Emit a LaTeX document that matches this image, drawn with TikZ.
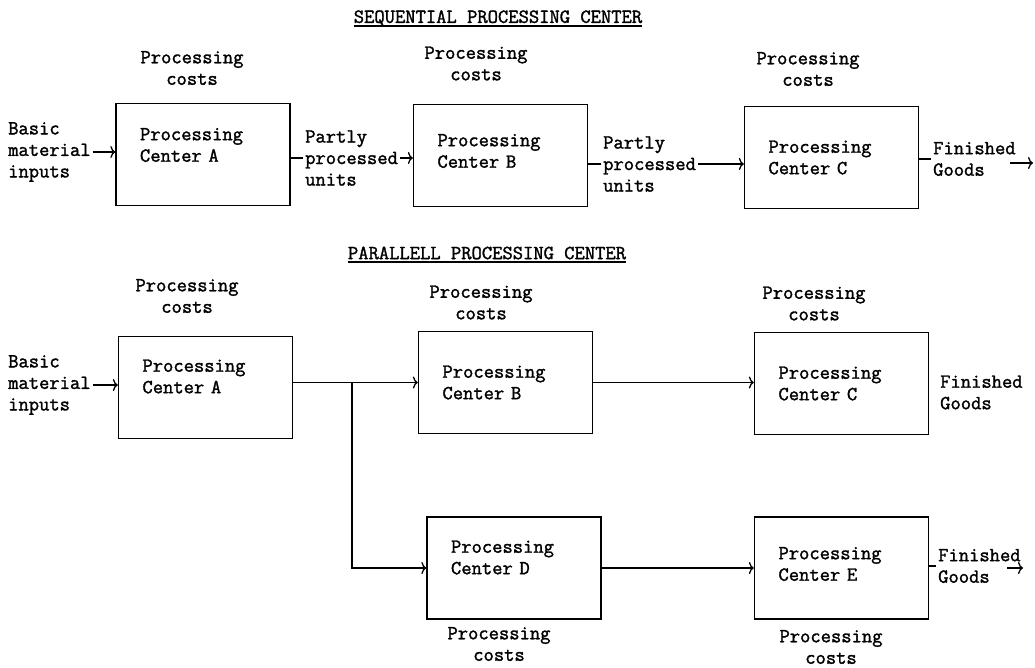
\documentclass[tikz,border=0pt]{standalone}
\usepackage{fontspec}
\setmonofont{Latin Modern Mono}[FakeBold=1.6]
\usepackage{tikz}
\usetikzlibrary{arrows.meta}
\newcommand{\liftbox}[1]{\par\vspace*{#1}}

\begin{document}
\begin{tikzpicture}[x=1pt, y=-1pt,
    font=\ttfamily\fontsize{20}{21.5}\selectfont,
    box/.style={draw, line width=1.3pt, minimum width=174pt, minimum height=102pt, inner xsep=24pt, text width=126pt, align=left},
    lift/.style={execute at end node={\liftbox{#1}}},
    lbl/.style={inner sep=2pt, align=left},
    cost/.style={inner sep=0pt, align=center},
    arr/.style={-{To[length=5pt,width=12pt]}, line width=1.3pt},
    rule/.style={line width=1.3pt}
]
\useasboundingbox (0,0) rectangle (1035,668);

% sequential
\node[inner sep=0pt] (seqtitle) at (498,18) {SEQUENTIAL PROCESSING CENTER};
\draw[rule] ([yshift=-3pt]seqtitle.base west) -- ([yshift=-3pt]seqtitle.base east);

\node[box, lift=19pt] (sa) at (203,154.5) {Processing\\Center A};
\node[box, lift=9pt] (sb) at (500.5,155.5) {Processing\\Center B};
\node[box] (sc) at (831.5,157.5) {Processing\\Center C};

\node[cost] (sacost) at (192,68) {Processing\\costs};
\node[cost] (sbcost) at (476,63.5) {Processing\\costs};
\node[cost] (sccost) at (808,69) {Processing\\costs};

\node[lbl, anchor=west] (sbasic) at (6,152) {Basic\\material\\inputs};
\node[lbl, anchor=west] (spart1) at (303,158) {Partly\\processed\\units};
\node[lbl, anchor=west] (spart2) at (601,164) {Partly\\processed\\units};
\node[lbl, anchor=west] (sfin) at (931,159) {Finished\\Goods};
\coordinate (sout) at (1033,163);

\draw[arr] (sbasic.east) -- (sbasic.east -| sa.west);
\draw[rule] (spart1.west -| sa.east) -- (spart1.west);
\draw[arr] (spart1.east) -- (spart1.east -| sb.west);
\draw[rule] (spart2.west -| sb.east) -- (spart2.west);
\draw[arr] (spart2.east) -- (spart2.east -| sc.west);
\draw[rule] (sfin.west -| sc.east) -- (sfin.west);
\draw[arr] (sfin.east |- sout) ++(-8pt,0) -- (sout);

% parallel
\node[inner sep=0pt] (partitle) at (487,253) {PARALLELL PROCESSING CENTER};
\draw[rule] ([yshift=-3pt]partitle.base west) -- ([yshift=-3pt]partitle.base east);

\node[box, lift=22pt] (pa) at (205.5,387.5) {Processing\\Center A};
\node[box] (pb) at (505.5,382.5) {Processing\\Center B};
\node[box] (pc) at (841.5,383.5) {Processing\\Center C};
\node[box, lift=21pt] (pd) at (514,568) {Processing\\Center D};
\node[box, lift=8pt] (pe) at (841.5,568) {Processing\\Center E};

\node[cost] (pacost) at (187,296) {Processing\\costs};
\node[cost] (pbcost) at (481,302.5) {Processing\\costs};
\node[cost] (pccost) at (814,303.5) {Processing\\costs};
\node[cost] (pdcost) at (499,644) {Processing\\costs};
\node[cost] (pecost) at (831,647) {Processing\\costs};

\node[lbl, anchor=west] (pbasic) at (6,385) {Basic\\material\\inputs};
\node[lbl, anchor=west] (pfinc) at (938,392.5) {Finished\\Goods};
\node[lbl, anchor=west] (pfine) at (936,566) {Finished\\Goods};
\coordinate (split) at (352,382.5);
\coordinate (pout) at (1023,568);

\draw[arr] (pbasic.east) -- (pbasic.east -| pa.west);
\draw[arr] (pb.west -| pa.east) -- (pb.west);
\draw[arr] (split) |- (pd.west);
\draw[arr] (pb.east) -- (pb.east -| pc.west);
\draw[arr] (pd) -- (pe);
\draw[rule] (pfine.west -| pe.east) -- (pfine.west);
\draw[arr] (pfine.east |- pout) ++(-16pt,0) -- (pout);
\end{tikzpicture}
\end{document}
